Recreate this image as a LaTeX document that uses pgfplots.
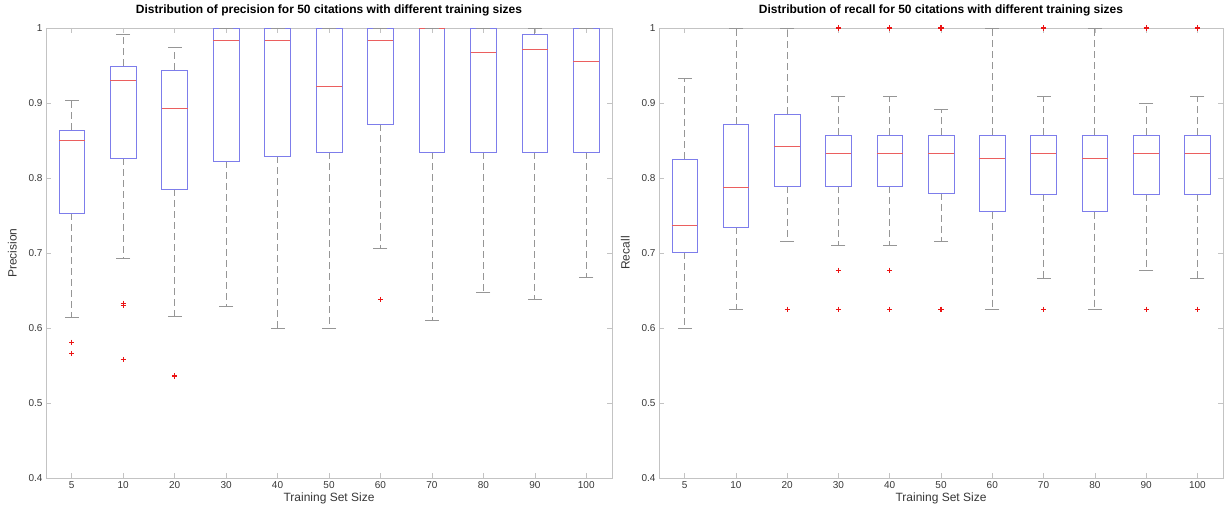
\documentclass[border=0pt]{standalone}
\usepackage{fontspec}
\setmainfont{Liberation Sans}
\usepackage{pgfplots}
\pgfplotsset{compat=1.18}
\usepgfplotslibrary{statistics}
\definecolor{boxblue}{RGB}{125,125,235}
\definecolor{medred}{RGB}{235,95,95}
\definecolor{whgray}{RGB}{150,150,150}
\definecolor{axgray}{RGB}{195,195,195}
\definecolor{txtgray}{RGB}{55,55,55}
\definecolor{outred}{RGB}{235,20,20}
\pgfplotsset{
  mbox/.style={
    scale only axis, height=450pt,
    xmin=0.5, xmax=11.5, ymin=0.4, ymax=1,
    clip=false,
    xtick={1,2,3,4,5,6,7,8,9,10,11},
    xticklabels={5,10,20,30,40,50,60,70,80,90,100},
    ytick={0.4,0.5,0.6,0.7,0.8,0.9,1},
    tick align=inside, major tick length=5pt,
    axis line style={axgray, line width=0.8pt},
    tick style={axgray, line width=0.6pt},
    ticklabel style={font=\fontsize{10}{12}\selectfont, text=txtgray},
    /pgf/number format/assume math mode=true,
    label style={font=\fontsize{12}{14}\selectfont, text=txtgray},
    xlabel style={yshift=3pt},
    ylabel style={yshift=5pt},
    title style={font=\bfseries\fontsize{12}{14}\selectfont, yshift=2pt},
    boxplot/draw direction=y,
    boxplot/every box/.style={draw=boxblue, line width=0.6pt},
    boxplot/every median/.style={draw=medred, line width=0.6pt},
    boxplot/every whisker/.style={draw=whgray, line width=0.7pt, dash pattern=on 7pt off 4pt},
    boxplot/box extend=0.5, boxplot/whisker extend=0,
  },
  caps/.style={only marks, color=whgray, mark=-, mark size=7pt, mark options={solid, draw=whgray, line width=0.7pt}},
  outl/.style={only marks, color=outred, draw=outred, mark=+, mark size=2.6pt, mark options={draw=outred, fill=outred, line width=1.2pt}},
}
\begin{document}
\begin{tikzpicture}
\path[use as bounding box] (0,0) rectangle (1224pt,504pt);
% ---------------- Precision ----------------
\begin{axis}[mbox, width=566pt, at={(46pt,26pt)}, anchor=south west,
  title={Distribution of precision for 50 citations with different training sizes},
  xlabel={Training Set Size}, ylabel={Precision}]
\addplot[boxplot prepared={draw position=1, lower whisker=0.614, lower quartile=0.753, median=0.850, upper quartile=0.864, upper whisker=0.903}] coordinates {};
\addplot[boxplot prepared={draw position=2, lower whisker=0.693, lower quartile=0.826, median=0.930, upper quartile=0.949, upper whisker=0.991}] coordinates {};
\addplot[boxplot prepared={draw position=3, lower whisker=0.615, lower quartile=0.785, median=0.893, upper quartile=0.944, upper whisker=0.974}] coordinates {};
\addplot[boxplot prepared={draw position=4, lower whisker=0.629, lower quartile=0.822, median=0.983, upper quartile=1, upper whisker=1}] coordinates {};
\addplot[boxplot prepared={draw position=5, lower whisker=0.600, lower quartile=0.829, median=0.983, upper quartile=1, upper whisker=1}] coordinates {};
\addplot[boxplot prepared={draw position=6, lower whisker=0.600, lower quartile=0.834, median=0.922, upper quartile=1, upper whisker=1}] coordinates {};
\addplot[boxplot prepared={draw position=7, lower whisker=0.706, lower quartile=0.872, median=0.983, upper quartile=1, upper whisker=1}] coordinates {};
\addplot[boxplot prepared={draw position=8, lower whisker=0.610, lower quartile=0.834, median=1, upper quartile=1, upper whisker=1}] coordinates {};
\addplot[boxplot prepared={draw position=9, lower whisker=0.648, lower quartile=0.834, median=0.967, upper quartile=1, upper whisker=1}] coordinates {};
\addplot[boxplot prepared={draw position=10, lower whisker=0.638, lower quartile=0.834, median=0.971, upper quartile=0.991, upper whisker=1}] coordinates {};
\addplot[boxplot prepared={draw position=11, lower whisker=0.667, lower quartile=0.834, median=0.955, upper quartile=1, upper whisker=1}] coordinates {};
\addplot[caps] coordinates {
 (1,0.614) (2,0.693) (3,0.615) (4,0.629) (5,0.600) (6,0.600) (7,0.706) (8,0.610) (9,0.648) (10,0.638) (11,0.667)
 (1,0.903) (2,0.991) (3,0.974) (4,1) (5,1) (6,1) (7,1) (8,1) (9,1) (10,1) (11,1)};
\addplot[outl] coordinates {
 (1,0.581) (1,0.566) (2,0.633) (2,0.630) (2,0.558) (3,0.536) (7,0.638)};
\end{axis}
% ---------------- Recall ----------------
\begin{axis}[mbox, width=564pt, at={(659pt,26pt)}, anchor=south west,
  title={Distribution of recall for 50 citations with different training sizes},
  xlabel={Training Set Size}, ylabel={Recall}]
\addplot[boxplot prepared={draw position=1, lower whisker=0.600, lower quartile=0.701, median=0.737, upper quartile=0.825, upper whisker=0.933}] coordinates {};
\addplot[boxplot prepared={draw position=2, lower whisker=0.625, lower quartile=0.734, median=0.787, upper quartile=0.872, upper whisker=1}] coordinates {};
\addplot[boxplot prepared={draw position=3, lower whisker=0.715, lower quartile=0.789, median=0.842, upper quartile=0.885, upper whisker=1}] coordinates {};
\addplot[boxplot prepared={draw position=4, lower whisker=0.710, lower quartile=0.789, median=0.833, upper quartile=0.857, upper whisker=0.909}] coordinates {};
\addplot[boxplot prepared={draw position=5, lower whisker=0.710, lower quartile=0.789, median=0.833, upper quartile=0.857, upper whisker=0.909}] coordinates {};
\addplot[boxplot prepared={draw position=6, lower whisker=0.715, lower quartile=0.780, median=0.833, upper quartile=0.857, upper whisker=0.891}] coordinates {};
\addplot[boxplot prepared={draw position=7, lower whisker=0.625, lower quartile=0.755, median=0.826, upper quartile=0.857, upper whisker=1}] coordinates {};
\addplot[boxplot prepared={draw position=8, lower whisker=0.666, lower quartile=0.778, median=0.833, upper quartile=0.857, upper whisker=0.909}] coordinates {};
\addplot[boxplot prepared={draw position=9, lower whisker=0.625, lower quartile=0.755, median=0.826, upper quartile=0.857, upper whisker=1}] coordinates {};
\addplot[boxplot prepared={draw position=10, lower whisker=0.677, lower quartile=0.778, median=0.833, upper quartile=0.857, upper whisker=0.900}] coordinates {};
\addplot[boxplot prepared={draw position=11, lower whisker=0.666, lower quartile=0.778, median=0.833, upper quartile=0.857, upper whisker=0.909}] coordinates {};
\addplot[caps] coordinates {
 (1,0.600) (2,0.625) (3,0.715) (4,0.710) (5,0.710) (6,0.715) (7,0.625) (8,0.666) (9,0.625) (10,0.677) (11,0.666)
 (1,0.933) (2,1) (3,1) (4,0.909) (5,0.909) (6,0.891) (7,1) (8,0.909) (9,1) (10,0.900) (11,0.909)};
\addplot[outl] coordinates {
 (3,0.625) (4,1) (4,0.677) (4,0.625) (5,1) (5,0.677) (5,0.625) (6,1) (6,0.625)
 (8,1) (8,0.625) (10,1) (10,0.625) (11,1) (11,0.625)};
\end{axis}
\end{tikzpicture}
\end{document}
